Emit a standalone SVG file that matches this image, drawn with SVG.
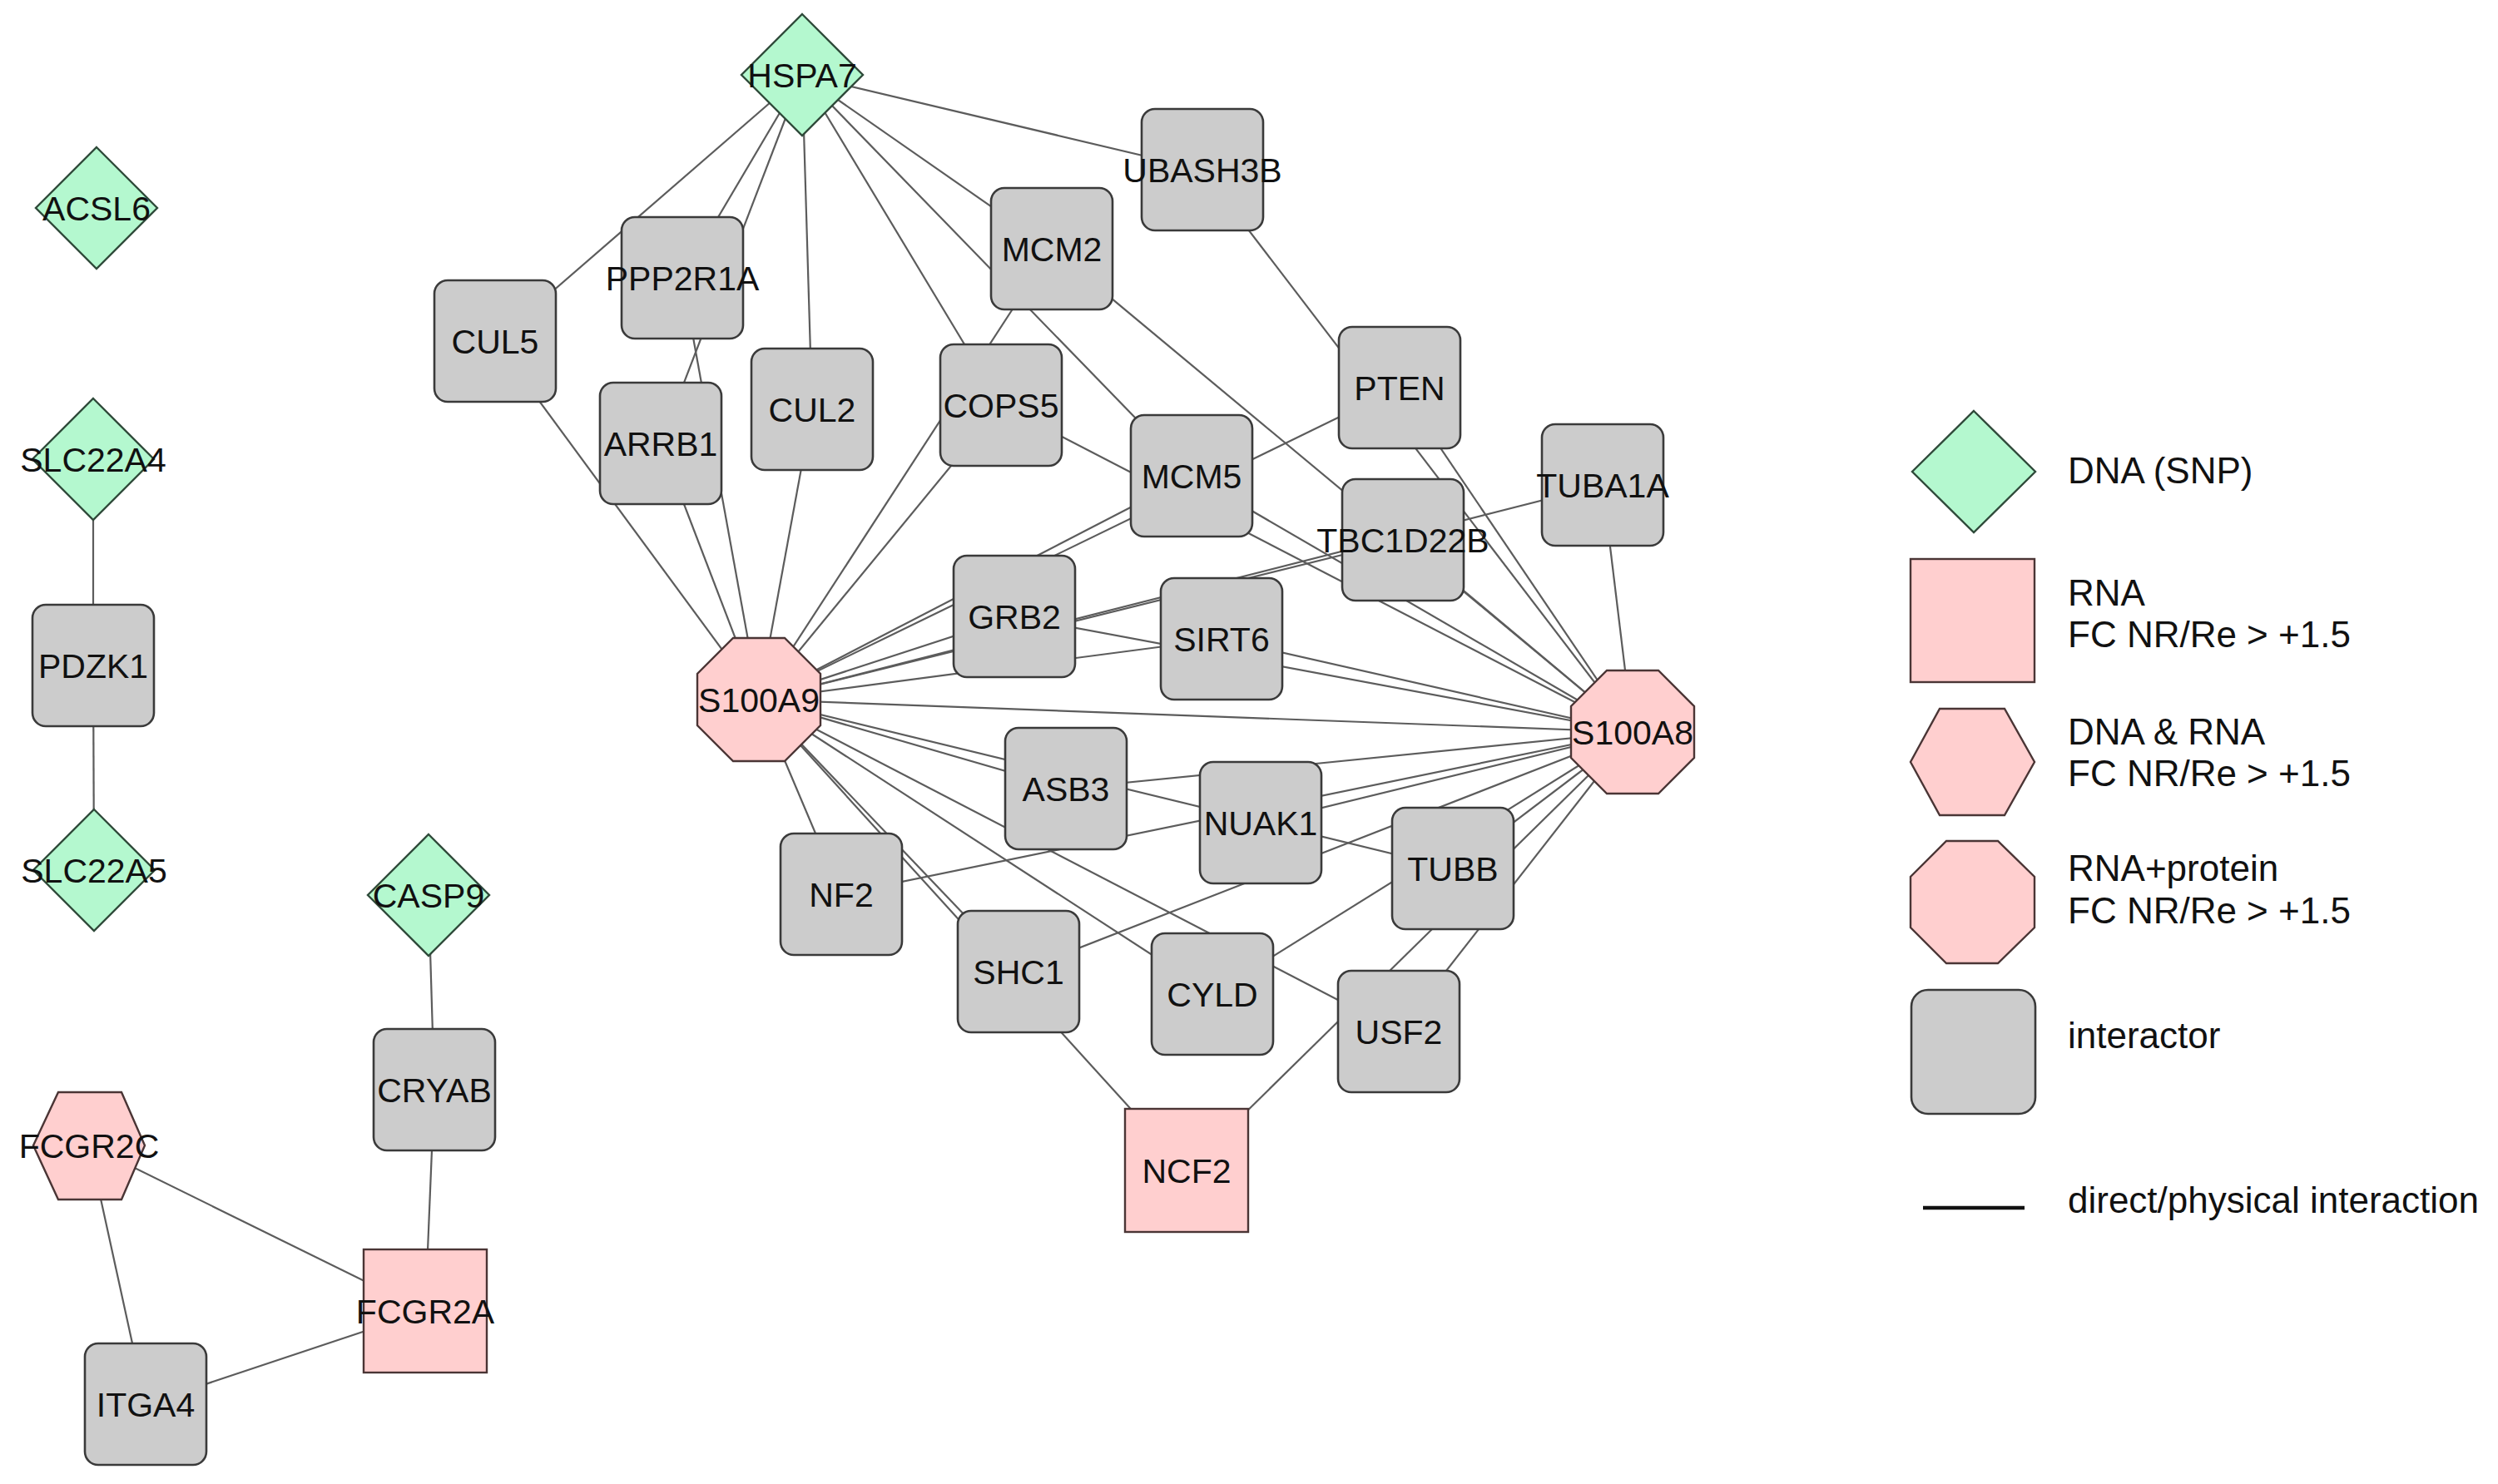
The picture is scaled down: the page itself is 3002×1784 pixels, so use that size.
<svg xmlns="http://www.w3.org/2000/svg" width="3002" height="1784" viewBox="0 0 3002 1784">
<style>
.e{stroke:#5c5c5c;stroke-width:2.2;fill:none}
.g{fill:#cccccc;stroke:#3a3a3a;stroke-width:2.6}
.p{fill:#ffcfcf;stroke:#4a3535;stroke-width:2.4}
.d{fill:#b4f8cf;stroke:#2f4a3a;stroke-width:2.4}
.t{font-family:"Liberation Sans",Arial,sans-serif;font-size:41px;text-anchor:middle;fill:#111}
.l{font-family:"Liberation Sans",Arial,sans-serif;font-size:44px;fill:#111}
</style>
<rect width="3002" height="1784" fill="#ffffff"/>
<g id="edges">
<line class="e" x1="112" y1="552" x2="112" y2="800"/>
<line class="e" x1="112" y1="800" x2="113" y2="1046"/>
<line class="e" x1="515" y1="1076" x2="522" y2="1310"/>
<line class="e" x1="522" y1="1310" x2="511" y2="1576"/>
<line class="e" x1="107" y1="1377" x2="511" y2="1576"/>
<line class="e" x1="107" y1="1377" x2="175" y2="1688"/>
<line class="e" x1="175" y1="1688" x2="511" y2="1576"/>
<line class="e" x1="964" y1="90" x2="595" y2="410"/>
<line class="e" x1="964" y1="90" x2="820" y2="334"/>
<line class="e" x1="964" y1="90" x2="794" y2="533"/>
<line class="e" x1="964" y1="90" x2="976" y2="492"/>
<line class="e" x1="964" y1="90" x2="1203" y2="487"/>
<line class="e" x1="964" y1="90" x2="1264" y2="299"/>
<line class="e" x1="964" y1="90" x2="1432" y2="572"/>
<line class="e" x1="964" y1="90" x2="1445" y2="204"/>
<line class="e" x1="912" y1="841" x2="595" y2="410"/>
<line class="e" x1="912" y1="841" x2="820" y2="334"/>
<line class="e" x1="912" y1="841" x2="794" y2="533"/>
<line class="e" x1="912" y1="841" x2="976" y2="492"/>
<line class="e" x1="912" y1="841" x2="1264" y2="299"/>
<line class="e" x1="912" y1="841" x2="1203" y2="487"/>
<line class="e" x1="912" y1="841" x2="1432" y2="572"/>
<line class="e" x1="912" y1="841" x2="1682" y2="466"/>
<line class="e" x1="912" y1="841" x2="1219" y2="741"/>
<line class="e" x1="912" y1="841" x2="1686" y2="649"/>
<line class="e" x1="912" y1="841" x2="1926" y2="583"/>
<line class="e" x1="912" y1="841" x2="1468" y2="768"/>
<line class="e" x1="912" y1="841" x2="1962" y2="880"/>
<line class="e" x1="912" y1="841" x2="1281" y2="948"/>
<line class="e" x1="912" y1="841" x2="1746" y2="1044"/>
<line class="e" x1="912" y1="841" x2="1681" y2="1240"/>
<line class="e" x1="912" y1="841" x2="1457" y2="1195"/>
<line class="e" x1="912" y1="841" x2="1224" y2="1168"/>
<line class="e" x1="912" y1="841" x2="1426" y2="1407"/>
<line class="e" x1="912" y1="841" x2="1011" y2="1075"/>
<line class="e" x1="1962" y1="880" x2="1445" y2="204"/>
<line class="e" x1="1962" y1="880" x2="1682" y2="466"/>
<line class="e" x1="1962" y1="880" x2="1264" y2="299"/>
<line class="e" x1="1962" y1="880" x2="1686" y2="649"/>
<line class="e" x1="1962" y1="880" x2="1203" y2="487"/>
<line class="e" x1="1962" y1="880" x2="1432" y2="572"/>
<line class="e" x1="1962" y1="880" x2="1926" y2="583"/>
<line class="e" x1="1962" y1="880" x2="1468" y2="768"/>
<line class="e" x1="1962" y1="880" x2="1219" y2="741"/>
<line class="e" x1="1962" y1="880" x2="1281" y2="948"/>
<line class="e" x1="1962" y1="880" x2="1011" y2="1075"/>
<line class="e" x1="1962" y1="880" x2="1515" y2="989"/>
<line class="e" x1="1962" y1="880" x2="1224" y2="1168"/>
<line class="e" x1="1962" y1="880" x2="1457" y2="1195"/>
<line class="e" x1="1962" y1="880" x2="1746" y2="1044"/>
<line class="e" x1="1962" y1="880" x2="1426" y2="1407"/>
<line class="e" x1="1962" y1="880" x2="1681" y2="1240"/>
</g>
<g id="n-ACSL6"><polygon class="d" points="116,177 189,250 116,323 43,250"/><text class="t" x="116" y="265">ACSL6</text></g>
<g id="n-SLC22A4"><polygon class="d" points="112,479 185,552 112,625 39,552"/><text class="t" x="112" y="567">SLC22A4</text></g>
<g id="n-PDZK1"><rect class="g" x="39" y="727" width="146" height="146" rx="16"/><text class="t" x="112" y="815">PDZK1</text></g>
<g id="n-SLC22A5"><polygon class="d" points="113,973 186,1046 113,1119 40,1046"/><text class="t" x="113" y="1061">SLC22A5</text></g>
<g id="n-CASP9"><polygon class="d" points="515,1003 588,1076 515,1149 442,1076"/><text class="t" x="515" y="1091">CASP9</text></g>
<g id="n-CRYAB"><rect class="g" x="449" y="1237" width="146" height="146" rx="16"/><text class="t" x="522" y="1325">CRYAB</text></g>
<g id="n-FCGR2C"><polygon class="p" points="70,1313 146,1313 174,1377 146,1442 70,1442 40,1377"/><text class="t" x="107" y="1392">FCGR2C</text></g>
<g id="n-FCGR2A"><rect class="p" x="437" y="1502" width="148" height="148"/><text class="t" x="511" y="1591">FCGR2A</text></g>
<g id="n-ITGA4"><rect class="g" x="102" y="1615" width="146" height="146" rx="16"/><text class="t" x="175" y="1703">ITGA4</text></g>
<g id="n-HSPA7"><polygon class="d" points="964,17 1037,90 964,163 891,90"/><text class="t" x="964" y="105">HSPA7</text></g>
<g id="n-CUL5"><rect class="g" x="522" y="337" width="146" height="146" rx="16"/><text class="t" x="595" y="425">CUL5</text></g>
<g id="n-PPP2R1A"><rect class="g" x="747" y="261" width="146" height="146" rx="16"/><text class="t" x="820" y="349">PPP2R1A</text></g>
<g id="n-ARRB1"><rect class="g" x="721" y="460" width="146" height="146" rx="16"/><text class="t" x="794" y="548">ARRB1</text></g>
<g id="n-CUL2"><rect class="g" x="903" y="419" width="146" height="146" rx="16"/><text class="t" x="976" y="507">CUL2</text></g>
<g id="n-COPS5"><rect class="g" x="1130" y="414" width="146" height="146" rx="16"/><text class="t" x="1203" y="502">COPS5</text></g>
<g id="n-MCM2"><rect class="g" x="1191" y="226" width="146" height="146" rx="16"/><text class="t" x="1264" y="314">MCM2</text></g>
<g id="n-UBASH3B"><rect class="g" x="1372" y="131" width="146" height="146" rx="16"/><text class="t" x="1445" y="219">UBASH3B</text></g>
<g id="n-PTEN"><rect class="g" x="1609" y="393" width="146" height="146" rx="16"/><text class="t" x="1682" y="481">PTEN</text></g>
<g id="n-MCM5"><rect class="g" x="1359" y="499" width="146" height="146" rx="16"/><text class="t" x="1432" y="587">MCM5</text></g>
<g id="n-TBC1D22B"><rect class="g" x="1613" y="576" width="146" height="146" rx="16"/><text class="t" x="1686" y="664">TBC1D22B</text></g>
<g id="n-TUBA1A"><rect class="g" x="1853" y="510" width="146" height="146" rx="16"/><text class="t" x="1926" y="598">TUBA1A</text></g>
<g id="n-GRB2"><rect class="g" x="1146" y="668" width="146" height="146" rx="16"/><text class="t" x="1219" y="756">GRB2</text></g>
<g id="n-SIRT6"><rect class="g" x="1395" y="695" width="146" height="146" rx="16"/><text class="t" x="1468" y="783">SIRT6</text></g>
<g id="n-S100A9"><polygon class="p" points="881,767 943,767 986,810 986,872 943,915 881,915 838,872 838,810"/><text class="t" x="912" y="856">S100A9</text></g>
<g id="n-S100A8"><polygon class="p" points="1931,806 1993,806 2036,849 2036,911 1993,954 1931,954 1888,911 1888,849"/><text class="t" x="1962" y="895">S100A8</text></g>
<g id="n-ASB3"><rect class="g" x="1208" y="875" width="146" height="146" rx="16"/><text class="t" x="1281" y="963">ASB3</text></g>
<g id="n-NUAK1"><rect class="g" x="1442" y="916" width="146" height="146" rx="16"/><text class="t" x="1515" y="1004">NUAK1</text></g>
<g id="n-TUBB"><rect class="g" x="1673" y="971" width="146" height="146" rx="16"/><text class="t" x="1746" y="1059">TUBB</text></g>
<g id="n-NF2"><rect class="g" x="938" y="1002" width="146" height="146" rx="16"/><text class="t" x="1011" y="1090">NF2</text></g>
<g id="n-SHC1"><rect class="g" x="1151" y="1095" width="146" height="146" rx="16"/><text class="t" x="1224" y="1183">SHC1</text></g>
<g id="n-CYLD"><rect class="g" x="1384" y="1122" width="146" height="146" rx="16"/><text class="t" x="1457" y="1210">CYLD</text></g>
<g id="n-USF2"><rect class="g" x="1608" y="1167" width="146" height="146" rx="16"/><text class="t" x="1681" y="1255">USF2</text></g>
<g id="n-NCF2"><rect class="p" x="1352" y="1333" width="148" height="148"/><text class="t" x="1426" y="1422">NCF2</text></g>
<g id="legend">
<polygon class="d" points="2372,494 2446,567 2372,640 2298,567"/>
<text class="l" x="2485" y="581">DNA (SNP)</text>
<rect class="p" x="2296" y="672" width="149" height="148"/>
<text class="l" x="2485" y="728">RNA</text>
<text class="l" x="2485" y="778">FC NR/Re &gt; +1.5</text>
<polygon class="p" points="2331,852 2409,852 2445,916 2409,980 2331,980 2296,916"/>
<text class="l" x="2485" y="895">DNA &amp; RNA</text>
<text class="l" x="2485" y="945">FC NR/Re &gt; +1.5</text>
<polygon class="p" points="2339,1011 2401,1011 2445,1054 2445,1115 2401,1158 2339,1158 2296,1115 2296,1054"/>
<text class="l" x="2485" y="1059">RNA+protein</text>
<text class="l" x="2485" y="1110">FC NR/Re &gt; +1.5</text>
<rect class="g" x="2297" y="1190" width="149" height="149" rx="20"/>
<text class="l" x="2485" y="1260">interactor</text>
<line x1="2311" y1="1452" x2="2433" y2="1452" stroke="#111" stroke-width="4.5"/>
<text class="l" x="2485" y="1458">direct/physical interaction</text>
</g>
</svg>
